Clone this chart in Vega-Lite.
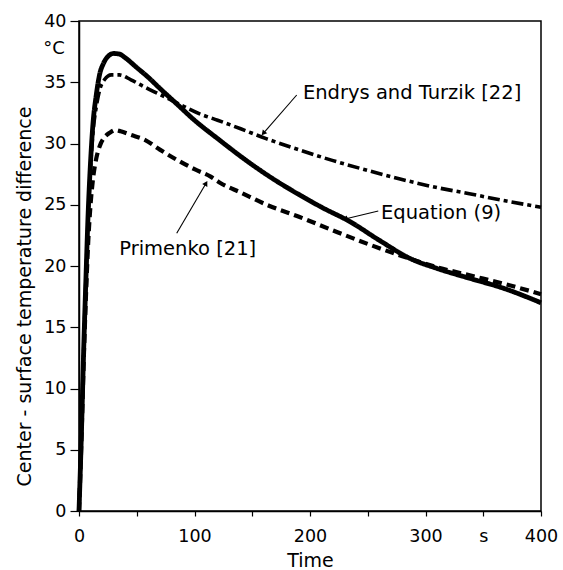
{
  "$schema": "https://vega.github.io/schema/vega-lite/v6.json",
  "width": 462,
  "height": 490,
  "autosize": {"type": "none"},
  "padding": {"left": 79, "top": 21, "right": 22, "bottom": 59},
  "background": "white",
  "config": {
    "view": {"stroke": "black", "strokeWidth": 1.5},
    "font": "DejaVu Sans",
    "axis": {"grid": false, "labelColor": "black", "titleColor": "black", "tickColor": "black", "domainColor": "black", "domainWidth": 1.5, "tickWidth": 1.2, "titleFontWeight": "normal", "labelFlush": false, "labelFontSize": 17.5, "titleFontSize": 19, "labelFont": "DejaVu Sans", "titleFont": "DejaVu Sans"}
  },
  "datasets": {
    "curves": [
      {"series": "Equation (9)", "t": 0, "v": 0},
      {"series": "Equation (9)", "t": 2, "v": 6},
      {"series": "Equation (9)", "t": 4, "v": 13},
      {"series": "Equation (9)", "t": 6, "v": 19},
      {"series": "Equation (9)", "t": 8, "v": 24.5},
      {"series": "Equation (9)", "t": 10, "v": 28.5},
      {"series": "Equation (9)", "t": 12, "v": 31.5},
      {"series": "Equation (9)", "t": 15, "v": 34},
      {"series": "Equation (9)", "t": 18, "v": 35.7},
      {"series": "Equation (9)", "t": 21, "v": 36.5},
      {"series": "Equation (9)", "t": 25, "v": 37.1},
      {"series": "Equation (9)", "t": 30, "v": 37.35},
      {"series": "Equation (9)", "t": 35, "v": 37.3},
      {"series": "Equation (9)", "t": 40, "v": 37.0},
      {"series": "Equation (9)", "t": 50, "v": 36.2},
      {"series": "Equation (9)", "t": 60, "v": 35.4},
      {"series": "Equation (9)", "t": 70, "v": 34.5},
      {"series": "Equation (9)", "t": 85, "v": 33.2},
      {"series": "Equation (9)", "t": 100, "v": 31.9},
      {"series": "Equation (9)", "t": 120, "v": 30.4},
      {"series": "Equation (9)", "t": 148, "v": 28.4},
      {"series": "Equation (9)", "t": 165, "v": 27.3},
      {"series": "Equation (9)", "t": 191, "v": 25.8},
      {"series": "Equation (9)", "t": 210, "v": 24.8},
      {"series": "Equation (9)", "t": 235, "v": 23.6},
      {"series": "Equation (9)", "t": 260, "v": 22.1},
      {"series": "Equation (9)", "t": 287, "v": 20.6},
      {"series": "Equation (9)", "t": 310, "v": 19.8},
      {"series": "Equation (9)", "t": 338, "v": 19.0},
      {"series": "Equation (9)", "t": 367, "v": 18.2},
      {"series": "Equation (9)", "t": 400, "v": 17.0},
      {"series": "Primenko [21]", "t": 0, "v": 0},
      {"series": "Primenko [21]", "t": 2, "v": 5.5},
      {"series": "Primenko [21]", "t": 4, "v": 12},
      {"series": "Primenko [21]", "t": 6, "v": 17.5},
      {"series": "Primenko [21]", "t": 8, "v": 22},
      {"series": "Primenko [21]", "t": 10, "v": 25},
      {"series": "Primenko [21]", "t": 12, "v": 27},
      {"series": "Primenko [21]", "t": 15, "v": 28.8},
      {"series": "Primenko [21]", "t": 18, "v": 29.8},
      {"series": "Primenko [21]", "t": 22, "v": 30.5},
      {"series": "Primenko [21]", "t": 27, "v": 30.9},
      {"series": "Primenko [21]", "t": 31, "v": 31.1},
      {"series": "Primenko [21]", "t": 36, "v": 31.0},
      {"series": "Primenko [21]", "t": 45, "v": 30.7},
      {"series": "Primenko [21]", "t": 57, "v": 30.3},
      {"series": "Primenko [21]", "t": 70, "v": 29.5},
      {"series": "Primenko [21]", "t": 86, "v": 28.6},
      {"series": "Primenko [21]", "t": 100, "v": 27.9},
      {"series": "Primenko [21]", "t": 114, "v": 27.3},
      {"series": "Primenko [21]", "t": 122, "v": 26.8},
      {"series": "Primenko [21]", "t": 140, "v": 26.0},
      {"series": "Primenko [21]", "t": 165, "v": 24.9},
      {"series": "Primenko [21]", "t": 191, "v": 24.0},
      {"series": "Primenko [21]", "t": 220, "v": 22.9},
      {"series": "Primenko [21]", "t": 250, "v": 21.8},
      {"series": "Primenko [21]", "t": 280, "v": 20.8},
      {"series": "Primenko [21]", "t": 310, "v": 19.9},
      {"series": "Primenko [21]", "t": 340, "v": 19.2},
      {"series": "Primenko [21]", "t": 370, "v": 18.5},
      {"series": "Primenko [21]", "t": 400, "v": 17.7},
      {"series": "Endrys and Turzik [22]", "t": 0, "v": 0},
      {"series": "Endrys and Turzik [22]", "t": 2, "v": 6},
      {"series": "Endrys and Turzik [22]", "t": 4, "v": 13},
      {"series": "Endrys and Turzik [22]", "t": 6, "v": 19},
      {"series": "Endrys and Turzik [22]", "t": 8, "v": 24},
      {"series": "Endrys and Turzik [22]", "t": 10, "v": 28},
      {"series": "Endrys and Turzik [22]", "t": 12, "v": 30.8},
      {"series": "Endrys and Turzik [22]", "t": 15, "v": 33},
      {"series": "Endrys and Turzik [22]", "t": 18, "v": 34.4},
      {"series": "Endrys and Turzik [22]", "t": 22, "v": 35.2},
      {"series": "Endrys and Turzik [22]", "t": 28, "v": 35.6},
      {"series": "Endrys and Turzik [22]", "t": 35, "v": 35.6},
      {"series": "Endrys and Turzik [22]", "t": 45, "v": 35.2},
      {"series": "Endrys and Turzik [22]", "t": 57, "v": 34.6},
      {"series": "Endrys and Turzik [22]", "t": 70, "v": 34.0},
      {"series": "Endrys and Turzik [22]", "t": 85, "v": 33.3},
      {"series": "Endrys and Turzik [22]", "t": 105, "v": 32.4},
      {"series": "Endrys and Turzik [22]", "t": 120, "v": 31.9},
      {"series": "Endrys and Turzik [22]", "t": 140, "v": 31.2},
      {"series": "Endrys and Turzik [22]", "t": 162, "v": 30.4},
      {"series": "Endrys and Turzik [22]", "t": 190, "v": 29.5},
      {"series": "Endrys and Turzik [22]", "t": 220, "v": 28.6},
      {"series": "Endrys and Turzik [22]", "t": 250, "v": 27.8},
      {"series": "Endrys and Turzik [22]", "t": 278, "v": 27.1},
      {"series": "Endrys and Turzik [22]", "t": 310, "v": 26.4},
      {"series": "Endrys and Turzik [22]", "t": 338, "v": 25.9},
      {"series": "Endrys and Turzik [22]", "t": 370, "v": 25.3},
      {"series": "Endrys and Turzik [22]", "t": 400, "v": 24.8}
    ],
    "notes": [
      {"label": "Endrys and Turzik [22]", "tx": 193, "ty": 34.1, "x1": 188.5, "y1": 33.96, "x2": 159.6, "y2": 30.83},
      {"label": "Equation (9)", "tx": 260.6, "ty": 24.3, "x1": 259.1, "y1": 24.49, "x2": 230.3, "y2": 23.84},
      {"label": "Primenko [21]", "tx": 34, "ty": 21.4, "x1": 84.6, "y1": 22.67, "x2": 110, "y2": 26.75}
    ],
    "units": [
      {"label": "°C", "t": -21.6, "v": 37.7}
    ]
  },
  "layer": [
    {
      "data": {"name": "curves"},
      "mark": {"type": "line", "interpolate": "monotone", "color": "black", "strokeCap": "butt"},
      "encoding": {
        "x": {
          "field": "t", "type": "quantitative",
          "scale": {"domain": [0, 400], "nice": false},
          "axis": {
            "values": [0, 50, 100, 150, 200, 250, 300, 350, 400],
            "labelExpr": "datum.value % 100 == 0 ? datum.label : (datum.value == 350 ? 's' : '')",
            "title": "Time", "tickSize": 5, "labelPadding": 11, "titlePadding": 7
          }
        },
        "y": {
          "field": "v", "type": "quantitative",
          "scale": {"domain": [0, 40], "nice": false},
          "axis": {
            "values": [0, 5, 10, 15, 20, 25, 30, 35, 40],
            "title": "Center - surface temperature difference",
            "tickSize": 9, "labelPadding": 4,
            "titleAngle": -90, "titleX": -55, "titleY": 275, "titleAlign": "center", "titleBaseline": "middle"
          }
        },
        "detail": {"field": "series"},
        "strokeDash": {
          "field": "series", "type": "nominal",
          "scale": {"domain": ["Equation (9)", "Primenko [21]", "Endrys and Turzik [22]"], "range": [[1, 0], [9, 5], [12, 4, 4, 4]]},
          "legend": null
        },
        "strokeWidth": {
          "field": "series", "type": "nominal",
          "scale": {"domain": ["Equation (9)", "Primenko [21]", "Endrys and Turzik [22]"], "range": [4.8, 3.6, 3.8]},
          "legend": null
        }
      }
    },
    {
      "data": {"name": "notes"},
      "mark": {"type": "rule", "color": "black", "strokeWidth": 1.1},
      "encoding": {
        "x": {"field": "x1", "type": "quantitative"},
        "y": {"field": "y1", "type": "quantitative"},
        "x2": {"field": "x2"},
        "y2": {"field": "y2"}
      }
    },
    {
      "data": {"name": "notes"},
      "transform": [{"filter": "datum.label == 'Endrys and Turzik [22]'"}],
      "mark": {"type": "point", "shape": "triangle-up", "filled": true, "color": "black", "size": 35, "angle": 221, "opacity": 1},
      "encoding": {
        "x": {"field": "x2", "type": "quantitative"},
        "y": {"field": "y2", "type": "quantitative"}
      }
    },
    {
      "data": {"name": "notes"},
      "transform": [{"filter": "datum.label == 'Equation (9)'"}],
      "mark": {"type": "point", "shape": "triangle-up", "filled": true, "color": "black", "size": 35, "angle": 256.5, "opacity": 1},
      "encoding": {
        "x": {"field": "x2", "type": "quantitative"},
        "y": {"field": "y2", "type": "quantitative"}
      }
    },
    {
      "data": {"name": "notes"},
      "transform": [{"filter": "datum.label == 'Primenko [21]'"}],
      "mark": {"type": "point", "shape": "triangle-up", "filled": true, "color": "black", "size": 35, "angle": 30.4, "opacity": 1},
      "encoding": {
        "x": {"field": "x2", "type": "quantitative"},
        "y": {"field": "y2", "type": "quantitative"}
      }
    },
    {
      "data": {"name": "notes"},
      "mark": {"type": "text", "align": "left", "baseline": "middle", "fontSize": 19.5, "font": "DejaVu Sans", "color": "black", "dx": 1},
      "encoding": {
        "x": {"field": "tx", "type": "quantitative"},
        "y": {"field": "ty", "type": "quantitative"},
        "text": {"field": "label"}
      }
    },
    {
      "data": {"name": "units"},
      "mark": {"type": "text", "align": "center", "baseline": "middle", "fontSize": 18, "font": "DejaVu Sans", "color": "black"},
      "encoding": {
        "x": {"field": "t", "type": "quantitative"},
        "y": {"field": "v", "type": "quantitative"},
        "text": {"field": "label"}
      }
    }
  ]
}
